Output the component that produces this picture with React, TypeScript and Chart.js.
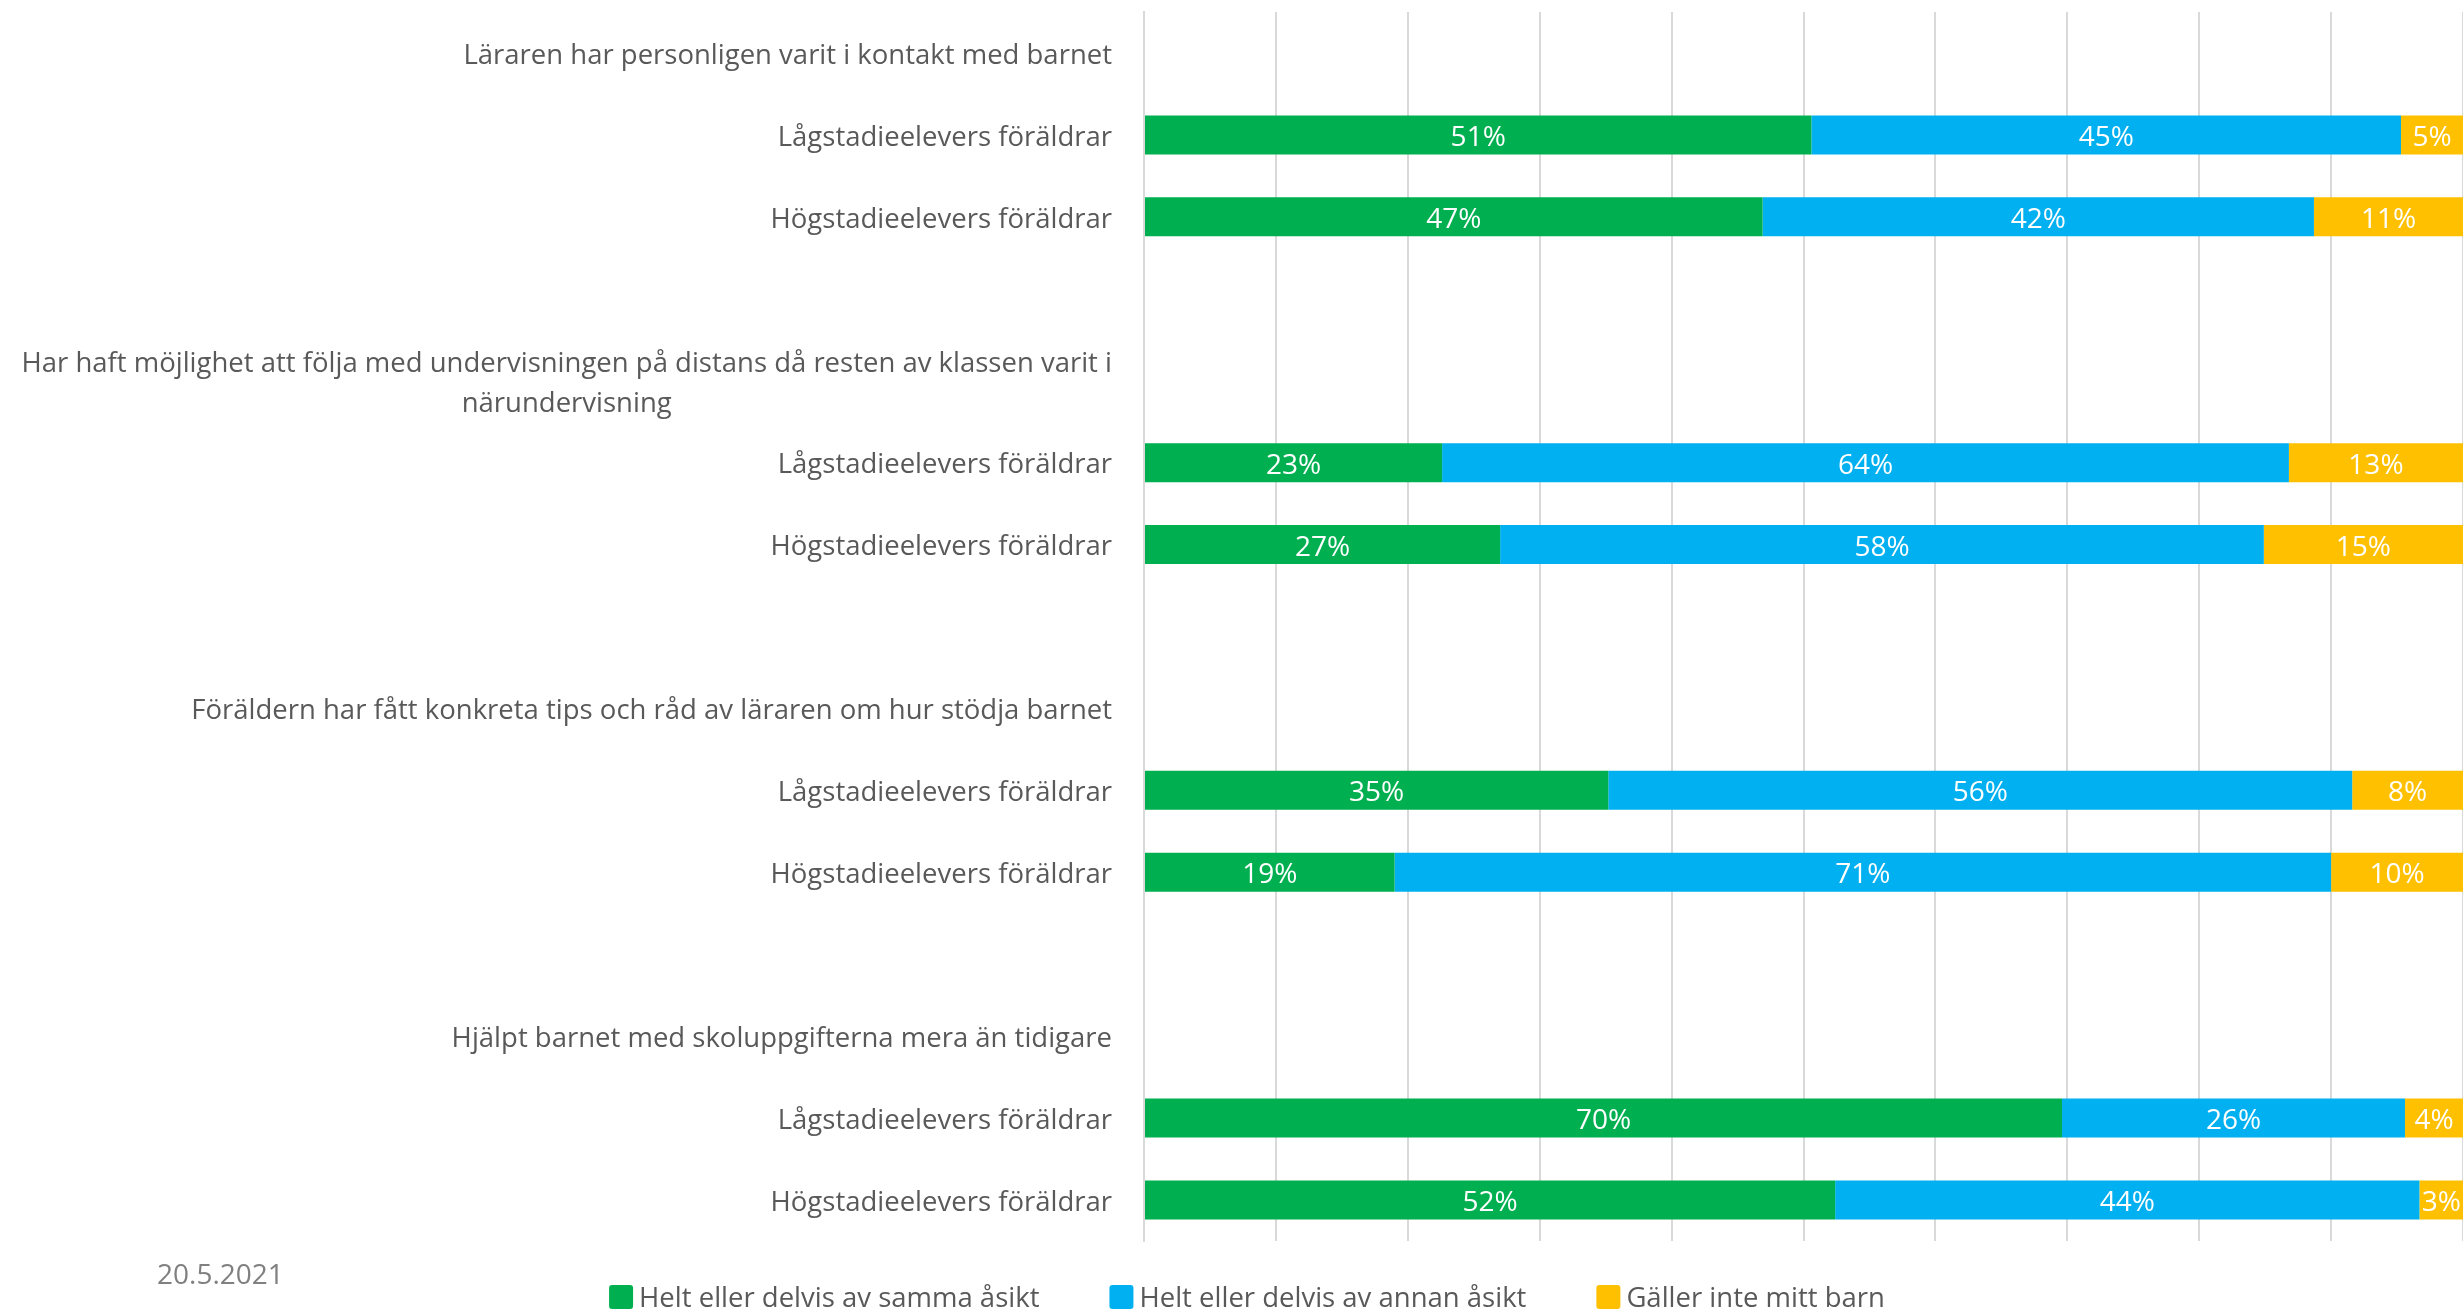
import { useEffect, useRef } from "react";
import { Chart, registerables } from "chart.js";

Chart.register(...registerables);

const categories: (string | string[])[] = [
  "Läraren har personligen varit i kontakt med barnet",
  "Lågstadieelevers föräldrar",
  "Högstadieelevers föräldrar",
  "",
  [
    "Har haft möjlighet att följa med undervisningen på distans då resten av klassen varit i",
    "närundervisning",
  ],
  "Lågstadieelevers föräldrar",
  "Högstadieelevers föräldrar",
  "",
  "Föräldern har fått konkreta tips och råd av läraren om hur stödja barnet",
  "Lågstadieelevers föräldrar",
  "Högstadieelevers föräldrar",
  "",
  "Hjälpt barnet med skoluppgifterna mera än tidigare",
  "Lågstadieelevers föräldrar",
  "Högstadieelevers föräldrar",
];

const seriesNames = [
  "Helt eller delvis av samma åsikt",
  "Helt eller delvis av annan åsikt",
  "Gäller inte mitt barn",
];

const sameOpinion = [null, 50.6, 46.9, null, null, 22.6, 27.0, null, null, 35.2, 19.0, null, null, 69.6, 52.4];
const otherOpinion = [null, 44.7, 41.8, null, null, 64.2, 57.9, null, null, 56.4, 71.0, null, null, 26.0, 44.3];
const notApplicable = [null, 4.7, 11.3, null, null, 13.2, 15.1, null, null, 8.4, 10.0, null, null, 4.4, 3.3];

const dateLabel = "20.5.2021";

const COLORS = ["#00B050", "#00B0F0", "#FFC000"];
const FONT_FAMILY = '"Open Sans", sans-serif';
const FONT_SIZE = 27.5;
const VALUE_FONT_SIZE = 28;
const TEXT_COLOR = "#595959";
const TEXT_DY = 3;

const textPlugin = {
  id: "customText",
  afterDatasetsDraw(chart: any) {
    const ctx = chart.ctx;
    ctx.save();
    ctx.font = `${VALUE_FONT_SIZE}px ${FONT_FAMILY}`;
    ctx.fillStyle = "#ffffff";
    ctx.textAlign = "center";
    ctx.textBaseline = "middle";
    chart.data.datasets.forEach((ds: any, di: number) => {
      const meta = chart.getDatasetMeta(di);
      meta.data.forEach((el: any, i: number) => {
        const v = ds.data[i];
        if (v == null) return;
        const p = el.getProps(["x", "base", "y"], true);
        ctx.fillText(Math.round(v) + "%", (p.x + p.base) / 2, p.y + TEXT_DY);
      });
    });
    ctx.restore();
  },
  afterDraw(chart: any) {
    const ctx = chart.ctx;
    const yScale = chart.scales.y;
    ctx.save();
    ctx.font = `${FONT_SIZE}px ${FONT_FAMILY}`;
    ctx.fillStyle = TEXT_COLOR;
    ctx.textBaseline = "middle";
    const rightX = yScale.right - 32;
    const labels = chart.data.labels as (string | string[])[];
    labels.forEach((lab, i) => {
      const y = yScale.getPixelForTick(i) + TEXT_DY;
      if (Array.isArray(lab)) {
        const widths = lab.map((l) => ctx.measureText(l).width);
        const maxW = Math.max(...widths);
        const cx = rightX - maxW / 2;
        const lh = 40;
        ctx.textAlign = "center";
        lab.forEach((l, k) => {
          ctx.fillText(l, cx, y + (k - (lab.length - 1) / 2) * lh);
        });
      } else if (lab) {
        ctx.textAlign = "right";
        ctx.fillText(lab, rightX, y);
      }
    });

    // date
    ctx.fillStyle = "#808080";
    ctx.font = `28px ${FONT_FAMILY}`;
    ctx.textAlign = "left";
    ctx.fillText(dateLabel, 157, 1276);
    ctx.font = `${FONT_SIZE}px ${FONT_FAMILY}`;

    // legend
    const box = 24;
    const boxGap = 6;
    const itemGap = 70;
    const widths = seriesNames.map((n) => ctx.measureText(n).width);
    const total =
      widths.reduce((a, b) => a + b, 0) + seriesNames.length * (box + boxGap) + itemGap * (seriesNames.length - 1);
    let x = 1247 - total / 2;
    const ly = 1297;
    seriesNames.forEach((n, i) => {
      ctx.fillStyle = COLORS[i];
      ctx.beginPath();
      if ((ctx as any).roundRect) {
        (ctx as any).roundRect(x, ly - box / 2, box, box, 3);
      } else {
        ctx.rect(x, ly - box / 2, box, box);
      }
      ctx.fill();
      x += box + boxGap;
      ctx.fillStyle = TEXT_COLOR;
      ctx.textAlign = "left";
      ctx.fillText(n, x, ly + 2);
      x += widths[i] + itemGap;
    });
    ctx.restore();
  },
};

export default function App() {
  const canvasRef = useRef<HTMLCanvasElement | null>(null);

  useEffect(() => {
    document.body.style.margin = "0";
    document.body.style.overflow = "hidden";
    const canvas = canvasRef.current;
    if (!canvas) return;
    const chart = new Chart(canvas, {
      type: "bar",
      data: {
        labels: categories,
        datasets: [
          { label: seriesNames[0], data: sameOpinion, backgroundColor: COLORS[0] },
          { label: seriesNames[1], data: otherOpinion, backgroundColor: COLORS[1] },
          { label: seriesNames[2], data: notApplicable, backgroundColor: COLORS[2] },
        ],
      },
      options: {
        indexAxis: "y",
        responsive: false,
        animation: false,
        layout: { padding: { top: 12, bottom: 70, left: 0, right: 0 } },
        datasets: { bar: { categoryPercentage: 0.476, barPercentage: 1 } },
        scales: {
          x: {
            stacked: true,
            min: 0,
            max: 100,
            ticks: { display: false, stepSize: 10 },
            grid: { color: "#d9d9d9", lineWidth: 2, drawTicks: false },
            border: { display: false },
          },
          y: {
            stacked: true,
            ticks: { display: false },
            grid: { display: false, drawTicks: false },
            border: { display: true, color: "#d9d9d9", width: 2 },
            afterFit: (s: any) => {
              s.width = 1144;
            },
          },
        },
        plugins: {
          legend: { display: false },
          tooltip: { enabled: false },
        },
      } as any,
      plugins: [textPlugin],
    });
    return () => chart.destroy();
  }, []);

  return <canvas ref={canvasRef} width={2463} height={1311} style={{ display: "block" }} />;
}
